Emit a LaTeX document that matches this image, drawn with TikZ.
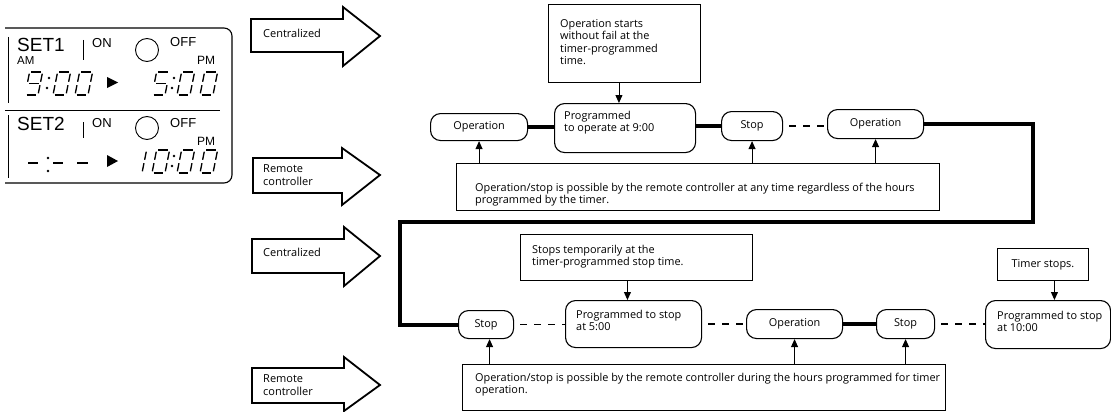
\documentclass[tikz,border=0pt]{standalone}
\usepackage{fontspec}
\setmainfont{Open Sans}
\newfontfamily\lcdfont{Liberation Sans}
\usetikzlibrary{arrows.meta}

\tikzset{
  flow/.style={font=\fontsize{10.9}{12}\selectfont, align=left, inner sep=0pt},
  alabel/.style={font=\fontsize{11}{13.5}\selectfont, align=left, inner sep=0pt},
  lcdtext/.style={inner sep=0pt, anchor=base west},
  rbox/.style={draw, line width=1.1pt, rounded corners=10pt, inner sep=0pt, font=\fontsize{10.9}{12}\selectfont},
  sbox/.style={draw, line width=0.9pt, inner sep=0pt, font=\fontsize{10.9}{12}\selectfont},
  heavyline/.style={line width=4pt, line join=miter},
  dashline/.style={line width=1.4pt, dash pattern=on 7pt off 7pt, dash phase=8pt},
  conn/.style={line width=0.9pt, -{Triangle[width=7pt,length=8pt]}},
  bigarrow/.style={draw, line width=1.8pt, line join=miter},
  lcdline/.style={line width=0.9pt},
  seg/.style={line width=1.3pt},
}

\newcommand\boxat[7]{\node[#1, minimum width={#5-#3}, minimum height={#6-#4}, anchor=north west] (#2) at (#3,#4) {#7};}

% seven-segment digit helpers (local coords: y negative is up)
\def\lw{13}\def\lh{23}\def\lg{1.7}
\newcommand\sA{\draw[seg] (\lg,-\lh) -- ({\lw-\lg},-\lh);}
\newcommand\sB{\draw[seg] (\lw,{-\lh+\lg}) -- (\lw,{-\lh/2-\lg});}
\newcommand\sC{\draw[seg] (\lw,{-\lh/2+\lg}) -- (\lw,-\lg);}
\newcommand\sD{\draw[seg] (\lg,0) -- ({\lw-\lg},0);}
\newcommand\sE{\draw[seg] (0,{-\lh/2+\lg}) -- (0,-\lg);}
\newcommand\sF{\draw[seg] (0,{-\lh+\lg}) -- (0,{-\lh/2-\lg});}
\newcommand\sG{\draw[seg] (\lg,{-\lh/2}) -- ({\lw-\lg},{-\lh/2});}
\newcommand\lcddigit[3]{\begin{scope}[shift={(#1,#2)}, xslant=0.2]#3\end{scope}}

\begin{document}
\begin{tikzpicture}[x=1pt,y=-1pt]
\useasboundingbox (0,0) rectangle (1111,412);

% ---------------- LCD panel ----------------
\draw[line width=1.1pt, rounded corners=8pt] (5,28) -- (232,28) -- (232,183) -- (5,183);
\draw[lcdline] (5,110) -- (220,110);
\draw[lcdline] (8,37) -- (8,103);
\draw[lcdline] (8,115) -- (8,178);
\draw[lcdline] (83,40) -- (83,60);
\draw[lcdline] (83,122) -- (83,138);
\draw[lcdline] (147,50) circle[radius=11.5];
\draw[lcdline] (147,128) circle[radius=11.5];

\node[lcdtext, font=\lcdfont\fontsize{19}{19}\selectfont] (set1) at (17,52) {SET1};
\node[lcdtext, font=\lcdfont\fontsize{11.5}{11.5}\selectfont] (am1) at (17,64) {AM};
\node[lcdtext, font=\lcdfont\fontsize{13}{13}\selectfont] (on1) at (92,48) {ON};
\node[lcdtext, font=\lcdfont\fontsize{13}{13}\selectfont] (off1) at (170,47) {OFF};
\node[lcdtext, font=\lcdfont\fontsize{12}{12}\selectfont] (pm1) at (197,65) {PM};

\node[lcdtext, font=\lcdfont\fontsize{19}{19}\selectfont] (set2) at (17,130) {SET2};
\node[lcdtext, font=\lcdfont\fontsize{13}{13}\selectfont] (on2) at (92,127) {ON};
\node[lcdtext, font=\lcdfont\fontsize{13}{13}\selectfont] (off2) at (170,127) {OFF};
\node[lcdtext, font=\lcdfont\fontsize{12}{12}\selectfont] (pm2) at (197,145) {PM};

% row 1 digits: 9:00 > 5:00
\lcddigit{25}{95}{\sA\sB\sC\sD\sF\sG}
\fill (49,78) circle[radius=1.4]; \fill (47,88) circle[radius=1.4];
\lcddigit{53}{95}{\sA\sB\sC\sD\sE\sF}
\lcddigit{75}{95}{\sA\sB\sC\sD\sE\sF}
\fill (107,77) -- (118,82.5) -- (107,88) -- cycle;
\lcddigit{152}{95}{\sA\sC\sD\sF\sG}
\fill (174,78) circle[radius=1.4]; \fill (172,88) circle[radius=1.4];
\lcddigit{177}{95}{\sA\sB\sC\sD\sE\sF}
\lcddigit{200}{95}{\sA\sB\sC\sD\sE\sF}

% row 2: -:- - > 10:00
\draw[line width=1.5pt] (28,163) -- (38,163);
\fill (48,158) circle[radius=1.4]; \fill (48,171) circle[radius=1.4];
\draw[line width=1.5pt] (53,163) -- (63,163);
\draw[line width=1.5pt] (77,163) -- (88,163);
\fill (107,155) -- (118,161) -- (107,167) -- cycle;
\lcddigit{142}{173}{\sE\sF}
\lcddigit{152}{173}{\sA\sB\sC\sD\sE\sF}
\fill (174,156) circle[radius=1.4]; \fill (172,166) circle[radius=1.4];
\lcddigit{177}{173}{\sA\sB\sC\sD\sE\sF}
\lcddigit{200}{173}{\sA\sB\sC\sD\sE\sF}

% ---------------- big arrows ----------------
\draw[bigarrow] (251,19) -- (343,19) -- (343,7) -- (380,36) -- (343,66) -- (343,52) -- (251,52) -- cycle;
\draw[bigarrow] (253,158) -- (342,158) -- (342,148) -- (380,175) -- (342,205) -- (342,193) -- (253,193) -- cycle;
\draw[bigarrow] (252,239) -- (344,239) -- (344,227) -- (380,256) -- (344,286) -- (344,273) -- (252,273) -- cycle;
\draw[bigarrow] (252,368) -- (344,368) -- (344,357) -- (380,385) -- (344,411) -- (344,403) -- (252,403) -- cycle;
\node[alabel, anchor=west] (lc1) at (263,33) {Centralized};
\node[alabel, anchor=west] (lr1) at (263,175) {Remote\\controller};
\node[alabel, anchor=west] (lc2) at (263,252) {Centralized};
\node[alabel, anchor=west] (lr2) at (263,385) {Remote\\controller};

% ---------------- top row ----------------
\boxat{sbox}{ostart}{548}{4}{700}{82}{}
\boxat{rbox}{prog9}{554}{103}{695}{152}{}
\boxat{rbox}{opA}{430}{113}{527}{140}{Operation}
\boxat{rbox}{stopA}{721}{111}{782}{140}{Stop}
\boxat{rbox}{opB}{827}{109}{923}{138}{Operation}
\boxat{sbox}{remA}{456}{163}{939}{210}{}

\node[flow, anchor=north west, font=\fontsize{10.9}{12.3}\selectfont] (tostart) at (560,19.5) {Operation starts\\without fail at the\\timer-programmed\\time.};
\node[flow, anchor=north west] (tprog9) at (564,111.5) {Programmed\\to operate at 9:00};
\node[flow, anchor=north west] (tremA) at (475,183) {Operation/stop is possible by the remote controller at any time regardless of the hours\\programmed by the timer.};

\draw[conn] ([xshift=-5.5pt]ostart.south) -- ([xshift=-5.5pt]ostart.south |- prog9.north);
\draw[conn] (remA.north -| opA) -- (opA.south);
\draw[conn] (remA.north -| stopA) -- (stopA.south);
\draw[conn] (remA.north -| opB) -- (opB.south);

\draw[heavyline] (opA.east) -- (opA.east -| prog9.west);
\draw[heavyline] (prog9.east |- stopA.west) -- (stopA.west);
\draw[dashline] (stopA.east) -- (stopA.east -| opB.west);

\coordinate (c1) at (1033,222);
\coordinate (c2) at (400,222);

% ---------------- bottom row ----------------
\boxat{sbox}{stemp}{520}{234}{752}{280}{}
\boxat{rbox}{prog5}{565}{300}{701}{347}{}
\boxat{rbox}{stopC}{458}{310}{513}{338}{Stop}
\boxat{rbox}{opD}{746}{309}{842}{338}{Operation}
\boxat{rbox}{stopE}{876}{309}{934}{338}{Stop}
\boxat{rbox}{prog10}{985}{300}{1110}{348}{}
\boxat{sbox}{timer}{997}{248}{1088}{280}{Timer stops.}
\boxat{sbox}{remB}{462}{364}{945}{410}{}

\node[flow, anchor=north west] (tstemp) at (532,245.5) {Stops temporarily at the\\timer-programmed stop time.};
\node[flow, anchor=north west] (tprog5) at (576,310.5) {Programmed to stop\\at 5:00};
\node[flow, anchor=north west] (tprog10) at (997,311.5) {Programmed to stop\\at 10:00};
\node[flow, anchor=north west] (tremB) at (475,373) {Operation/stop is possible by the remote controller during the hours programmed for timer\\operation.};

\draw[heavyline] (opB.east) -| (c1) -- (c2) |- (stopC.west);

\draw[conn] ([xshift=-9pt]stemp.south) -- ([xshift=-9pt]stemp.south |- prog5.north);
\draw[conn] ([xshift=11.5pt]timer.south) -- ([xshift=11.5pt]timer.south |- prog10.north);
\draw[conn] ([xshift=3.5pt]remB.north -| stopC) -- ([xshift=3.5pt]stopC.south);
\draw[conn] (remB.north -| opD) -- (opD.south);
\draw[conn] (remB.north -| stopE) -- (stopE.south);

\draw[dashline] (stopC.east) -- (stopC.east -| prog5.west);
\draw[dashline] (prog5.east |- opD.west) -- (opD.west);
\draw[heavyline] (opD.east) -- (stopE.west);
\draw[dashline] (stopE.east) -- (stopE.east -| prog10.west);
\end{tikzpicture}
\end{document}
